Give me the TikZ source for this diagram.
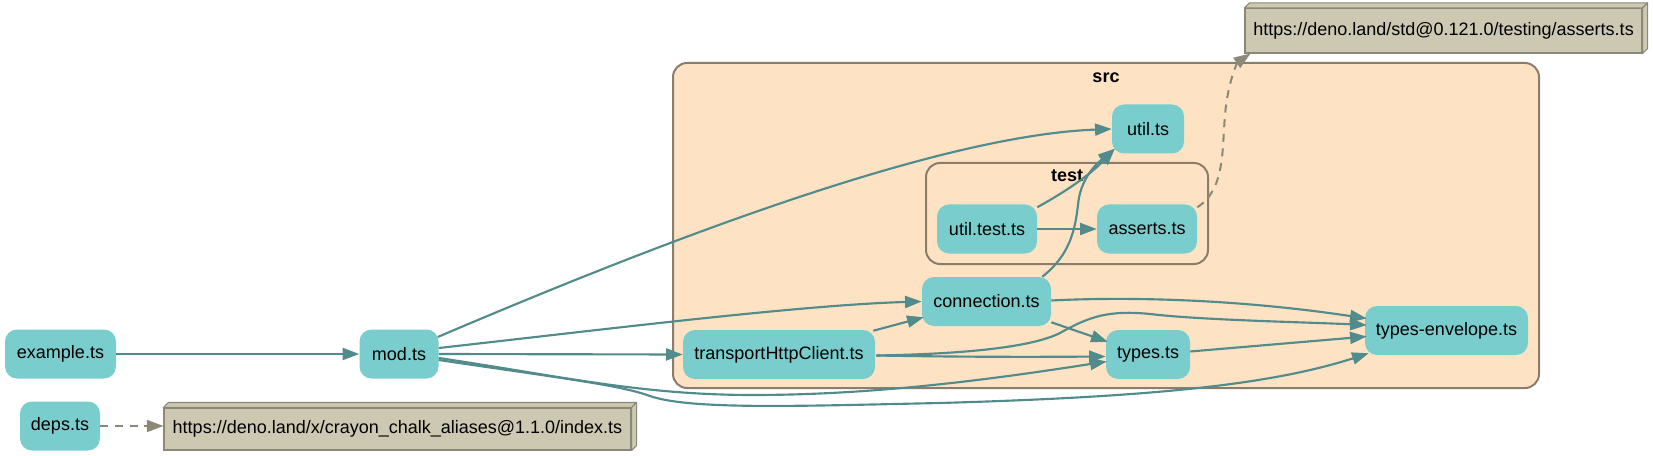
\documentclass[tikz,border=0pt]{standalone}
\usepackage{fontspec}
\setmainfont{Liberation Sans}
\usetikzlibrary{arrows.meta,calc}
\definecolor{nodefill}{RGB}{121,205,205}
\definecolor{edgecol}{RGB}{82,139,139}
\definecolor{clfill}{RGB}{253,227,196}
\definecolor{cldraw}{RGB}{139,125,107}
\definecolor{urlfill}{RGB}{205,200,177}
\definecolor{urldraw}{RGB}{139,136,120}
\newcommand\nfont{\fontsize{13.5pt}{16pt}\selectfont}
\newcommand\cfont{\fontsize{13.5pt}{16pt}\selectfont\bfseries}
\begin{document}
\begin{tikzpicture}[x=0.75pt,y=-0.75pt,
  file/.style={rectangle, rounded corners=9pt, fill=nodefill, draw=none, minimum height=36.75pt, inner sep=0pt, font=\nfont},
  url/.style={rectangle, fill=urlfill, draw=urldraw, line width=0.8pt, inner sep=0pt, font=\nfont},
  urlside/.style={fill=urlfill, draw=urldraw, line width=0.8pt, line join=round},
  cluster/.style={rectangle, rounded corners=10.5pt, fill=clfill, draw=cldraw, line width=1.5pt, inner sep=0pt},
  cluster2/.style={rectangle, rounded corners=10.5pt, draw=cldraw, line width=1.5pt, inner sep=0pt},
  cllabel/.style={font=\cfont, inner sep=0pt},
  edge/.style={draw=edgecol, line width=1.6pt, -{Triangle[length=12.5pt,width=9pt]}},
  dep/.style={draw=urldraw, line width=1.5pt, dash pattern=on 6pt off 5pt, -{Triangle[length=12.5pt,width=9pt]}}
]
\useasboundingbox (0,0) rectangle (1653,456);

% clusters
\node[cluster, minimum width=649.5pt, minimum height=243.75pt] (src) at (1106,225.5) {};
\node[cllabel] (srclabel) at (1106,78) {src};
\node[cluster2, minimum width=211.5pt, minimum height=75.75pt] (test) at (1067,213.5) {};
\node[cllabel] (testlabel) at (1067,176) {test};

% file nodes
\node[file, minimum width=83.25pt] (example) at (60.5,354) {example.ts};
\node[file, minimum width=59.25pt] (mod) at (399,354) {mod.ts};
\node[file, minimum width=60pt] (deps) at (60,426) {deps.ts};
\node[file, minimum width=54pt] (util) at (1148,129) {util.ts};
\node[file, minimum width=75pt] (utiltest) at (987,229) {util.test.ts};
\node[file, minimum width=75pt] (asserts) at (1147,229) {asserts.ts};
\node[file, minimum width=96.75pt] (connection) at (986.5,301.5) {connection.ts};
\node[file, minimum width=144pt] (transport) at (779,354.5) {transportHttpClient.ts};
\node[file, minimum width=63pt] (types) at (1148,354.5) {types.ts};
\node[file, minimum width=122.25pt] (typesenv) at (1446.5,330.5) {types-envelope.ts};

% url boxes (box3d)
\node[url, minimum width=350.25pt, minimum height=31.5pt] (crayon) at (397.5,429) {https://deno.land/x/crayon\_chalk\_aliases@1.1.0/index.ts};
\path[urlside] (crayon.north west) -- ++(5,-5) -- ($(crayon.north east)+(5,-5)$) -- (crayon.north east) -- cycle;
\path[urlside] (crayon.north east) -- ++(5,-5) -- ($(crayon.south east)+(5,-5)$) -- (crayon.south east) -- cycle;

\node[url, minimum width=297.75pt, minimum height=33.4pt] (urlA) at (1443.5,30.75) {https://deno.land/std@0.121.0/testing/asserts.ts};
\path[urlside] (urlA.north west) -- ++(5,-5) -- ($(urlA.north east)+(5,-5)$) -- (urlA.north east) -- cycle;
\path[urlside] (urlA.north east) -- ++(5,-5) -- ($(urlA.south east)+(5,-5)$) -- (urlA.south east) -- cycle;

% edges
\draw[edge] (example.east) -- (mod.west);
\draw[dep] (deps.east) -- (deps.east -| crayon.west);
\draw[edge] ($(mod.east)+(-1,-17)$) .. controls (700,225) and (950,135) .. (util.west);
\draw[edge] ($(mod.east)+(0,-6)$) .. controls (600,330) and (800,305) .. (connection.west);
\draw[edge] (mod.east) -- (transport.west);
\draw[edge] ($(mod.east)+(0,4)$) .. controls (560,376) and (640,395) .. (753,395) .. controls (880,395) and (1000,378) .. ($(types.west)+(1,7)$);
\draw[edge] ($(mod.east)+(0,6)$) .. controls (560,378) and (620,385) .. (650,396) .. controls (690,410) and (800,406) .. (940,403) .. controls (1150,397) and (1270,385) .. ($(typesenv.south west)+(4,-2)$);
\draw[edge] ($(transport.north east)+(-2,1)$) -- ($(connection.south west)+(2,-9)$);
\draw[edge] ($(transport.east)+(1,1)$) .. controls (960,357) and (1030,357) .. ($(types.west)+(0,2)$);
\draw[edge] ($(transport.east)+(1,1)$) .. controls (960,354) and (1030,348) .. (1060,333) .. controls (1090,316) and (1110,310) .. (1150,314) .. controls (1200,320) and (1300,322) .. ($(typesenv.west)+(2,-5.5)$);
\draw[edge] ($(connection.east)+(0,-1)$) .. controls (1120,297) and (1230,298) .. ($(typesenv.west)+(2,-12)$);
\draw[edge] ($(connection.south east)+(0,-4)$) -- ($(types.north west)+(2,12)$);
\draw[edge] ($(types.east)+(0,-3)$) -- ($(typesenv.west)+(2,6)$);
\draw[edge] ($(connection.north east)+(-9,0)$) .. controls (1070,255) and (1075,230) .. (1078,205) .. controls (1080,180) and (1095,165) .. ($(util.south west)+(3,-5)$);
\draw[edge] ($(utiltest.north east)+(0,3)$) .. controls (1065,192) and (1090,175) .. ($(util.south west)+(3,-5)$);
\draw[edge] (utiltest.east) -- (asserts.west);
\draw[dep] ($(asserts.north east)+(0,3)$) .. controls (1225,190) and (1222,150) .. (1225,115) .. controls (1228,80) and (1238,62) .. ($(urlA.south west)+(6,0)$);
\end{tikzpicture}
\end{document}
